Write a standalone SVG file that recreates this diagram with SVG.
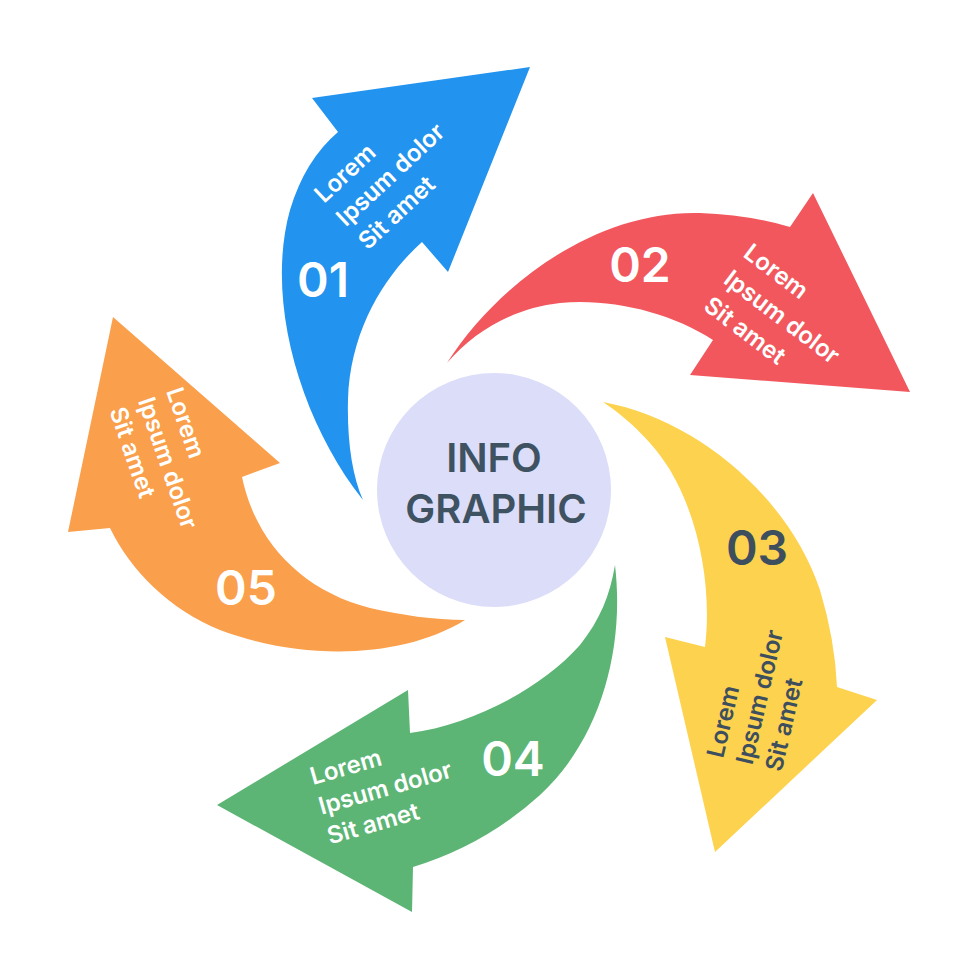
<svg xmlns="http://www.w3.org/2000/svg" width="980" height="980" viewBox="0 0 980 980">
<style>
.lbl{font-family:Inter,"Open Sans","Liberation Sans",sans-serif;font-weight:600;font-size:24px;fill:#ffffff}
.num{font-family:Inter,"Open Sans","Liberation Sans",sans-serif;font-weight:600;font-size:48px;fill:#ffffff;text-anchor:middle}
.dark{fill:#3d4f5e}
.title{font-family:Inter,"Open Sans","Liberation Sans",sans-serif;font-weight:600;font-size:40px;fill:#3f5261;text-anchor:middle}
</style>
<rect width="980" height="980" fill="#ffffff"/>
<g id="arrow01">
<path fill="#2293ee" d="M363,500 C300,420 265,300 290,210 Q305,160 338,132 L312,98 L530,67 L448,272 L422,242 C385,275 350,330 348,400 C347,440 352,475 363,500 Z"/>
<text class="num" x="323" y="297">01</text>
<g transform="translate(324,204) rotate(-43)">
<text class="lbl" x="0" y="0">Lorem</text>
<text class="lbl" x="0" y="32">Ipsum dolor</text>
<text class="lbl" x="0" y="64">Sit amet</text>
</g>
</g>
<g id="arrow02">
<path fill="#f2575d" d="M447,363 C500,280 600,210 700,213 Q750,215 790,227 L813,193 L910,392 L690,375 L713,340 C670,312 610,298 560,303 C515,308 475,330 447,363 Z"/>
<text class="num" x="640" y="282">02</text>
<g transform="translate(742,256) rotate(37)">
<text class="lbl" x="0" y="0">Lorem</text>
<text class="lbl" x="0" y="33">Ipsum dolor</text>
<text class="lbl" x="0" y="66">Sit amet</text>
</g>
</g>
<g id="arrow03">
<path fill="#fdd24e" d="M603,402 C700,420 790,500 820,590 Q835,640 837,687 L877,700 L715,852 L665,637 L705,647 C712,590 700,520 670,470 C655,445 630,420 603,402 Z"/>
<text class="num dark" x="757" y="565">03</text>
<g transform="translate(723,759) rotate(-77)">
<text class="lbl dark" x="0" y="0">Lorem</text>
<text class="lbl dark" x="0" y="30">Ipsum dolor</text>
<text class="lbl dark" x="0" y="60">Sit amet</text>
</g>
</g>
<g id="arrow04">
<path fill="#5cb574" d="M615,565 C625,650 600,740 540,795 Q485,845 413,867 L412,912 L217,805 L408,690 L410,733 C470,725 540,690 580,645 C600,620 610,595 615,565 Z"/>
<text class="num" x="513" y="776">04</text>
<g transform="translate(313,785) rotate(-16)">
<text class="lbl" x="0" y="0">Lorem</text>
<text class="lbl" x="0" y="31">Ipsum dolor</text>
<text class="lbl" x="0" y="62">Sit amet</text>
</g>
</g>
<g id="arrow05">
<path fill="#fa9f4b" d="M465,620 C400,660 300,660 220,630 C170,610 130,570 110,528 L68,532 L113,317 L280,463 L242,477 C255,540 300,590 370,608 C400,615 435,620 465,620 Z"/>
<text class="num" x="246" y="605">05</text>
<g transform="translate(166,391) rotate(71)">
<text class="lbl" x="0" y="0">Lorem</text>
<text class="lbl" x="0" y="30">Ipsum dolor</text>
<text class="lbl" x="0" y="60">Sit amet</text>
</g>
</g>
<g id="center">
<circle cx="494" cy="490" r="117" fill="#dcddf9"/>
<text class="title" x="494" y="472">INFO</text>
<text class="title" x="496" y="523">GRAPHIC</text>
</g>
<g id="connectors"></g>
</svg>
